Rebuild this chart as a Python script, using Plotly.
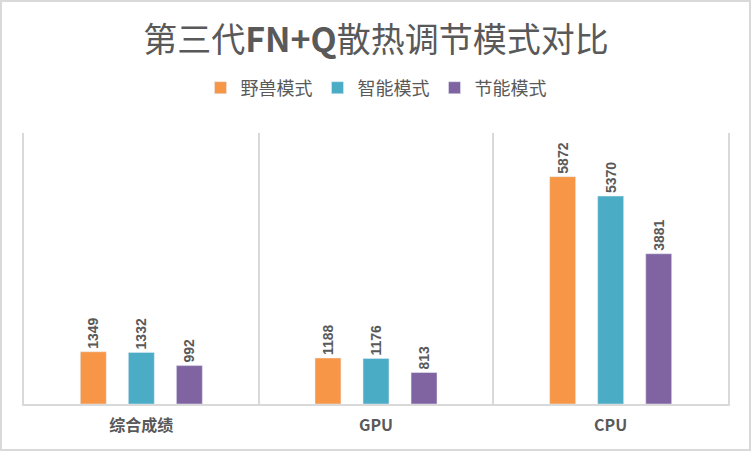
import plotly.graph_objects as go

categories = ["综合成绩", "GPU", "CPU"]
beast_mode = [1349, 1188, 5872]
smart_mode = [1332, 1176, 5370]
eco_mode = [992, 813, 3881]
series_names = ["野兽模式", "智能模式", "节能模式"]
colors = ["#F79646", "#4BACC6", "#8064A2"]

W, H = 752, 452
L, R, T, B = 24, 24, 133, 48

fig = go.Figure()
for name, vals, col in zip(series_names, [beast_mode, smart_mode, eco_mode], colors):
    fig.add_trace(go.Bar(
        x=categories, y=vals, name=name, marker_color=col,
        text=vals, texttemplate="%{y}", textposition="outside", textangle=-90,
        constraintext="none",
        textfont=dict(family="Liberation Sans", size=14, color="#595959", weight="bold"),
        cliponaxis=False,
    ))

pw, ph = W - L - R, H - T - B
def px(x):
    return (x - L) / pw
def py(y):
    return (H - B - y) / ph

fig.update_layout(
    width=W, height=H,
    margin=dict(l=L, r=R, t=T, b=B),
    paper_bgcolor="white", plot_bgcolor="white",
    barmode="group", bargap=0.386, bargroupgap=0.46,
    title=dict(text="第三代<b>FN+Q</b>散热调节模式对比", x=0.5, xanchor="center",
               y=1 - 40 / H, yanchor="middle",
               font=dict(family="Noto Sans CJK SC", size=34, color="#595959")),
    legend=dict(orientation="h", x=0.5, xanchor="center", y=py(88), yanchor="middle",
                font=dict(family="Noto Sans CJK SC", size=18, color="#595959"),
                itemwidth=30, traceorder="normal"),
    xaxis=dict(tickson="boundaries", showgrid=True, gridcolor="#D9D9D9", gridwidth=2,
               showline=True, linecolor="#D9D9D9", linewidth=2, ticks="",
               ticklabelstandoff=6,
               tickfont=dict(family="Noto Sans CJK SC", size=16, color="#595959", weight="bold")),
    yaxis=dict(range=[0, 7000], showgrid=False, showticklabels=False, zeroline=False,
               showline=True, mirror=True, linecolor="#D9D9D9", linewidth=2, ticks=""),
    shapes=[dict(type="rect", xref="paper", yref="paper",
                 x0=px(1), x1=px(750), y0=py(450), y1=py(1),
                 line=dict(color="#D9D9D9", width=2), layer="above")],
)
fig.write_html("out.html", config={"displayModeBar": False},
               post_script="document.body.style.margin='0';document.body.style.padding='0';")
